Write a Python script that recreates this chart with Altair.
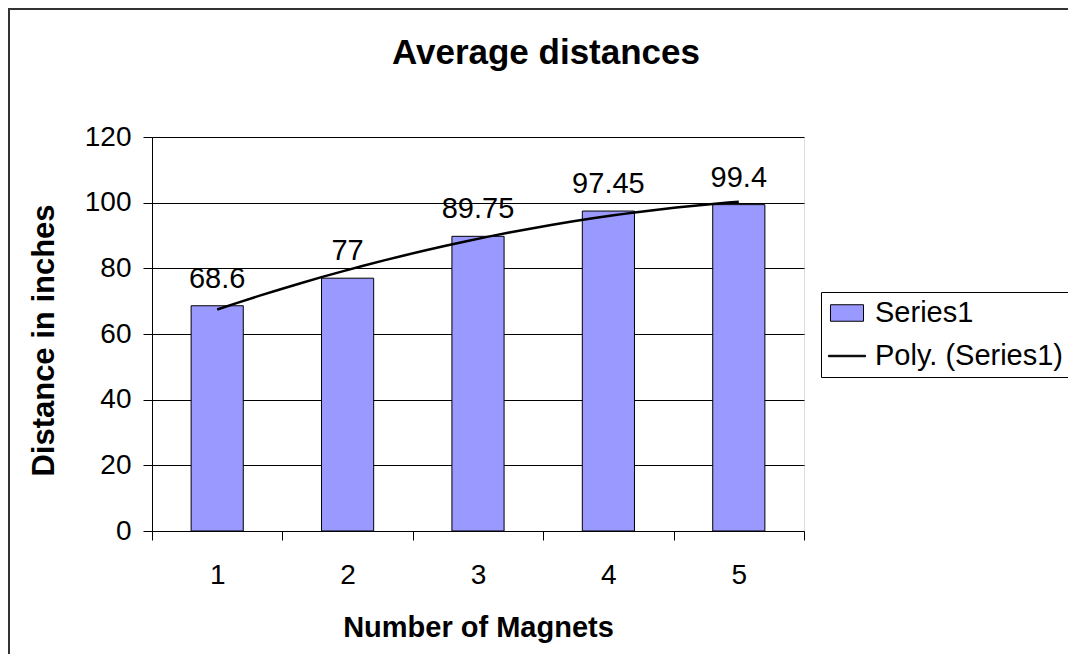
import altair as alt
import pandas as pd

# ---- data ----
magnets = [1, 2, 3, 4, 5]
distances = [68.6, 77, 89.75, 97.45, 99.4]
label_texts = ["68.6", "77", "89.75", "97.45", "99.4"]
y_ticks = [0, 20, 40, 60, 80, 100, 120]
series_names = ["Series1", "Poly. (Series1)"]

df = pd.DataFrame({
    "n": magnets,
    "dist": distances,
    "label": label_texts,
    "series": [series_names[0]] * len(magnets),
})

FONT = "Liberation Sans"
W, H = 652, 394
PL, PT = 144, 129
PR = 1060 - PL - W
PB = 646 - PT - H

# legend symbol shapes (unit coords scaled by sqrt(symbolSize)/2 = 14.5 px)
RECT_PATH = "M-1.14,-0.57H1.14V0.57H-1.14Z"
LINE_PATH = "M-1.28,-0.05H1.28V0.05H-1.28Z"

color_scale = alt.Scale(domain=series_names, range=["#9999FF", "#000000"])

legend = alt.Legend(
    title=None,
    orient="none",
    legendX=669,
    legendY=155,
    labelFont=FONT,
    labelFontSize=29,
    labelColor="black",
    labelLimit=400,
    fillColor="white",
    strokeColor="black",
    padding=6,
    rowPadding=13,
    labelOffset=13,
    symbolOffset=5,
    symbolSize=841,
    symbolStrokeColor="black",
    symbolStrokeWidth=1,
    symbolType=alt.ExprRef(
        expr="datum.value === 'Series1' ? '" + RECT_PATH + "' : '" + LINE_PATH + "'"
    ),
)

band = alt.Scale(paddingInner=0, paddingOuter=0)

bars = alt.Chart(df).mark_bar(
    stroke="black", strokeWidth=1, width=alt.RelativeBandSize(band=0.4)
).encode(
    x=alt.X(
        "n:O",
        scale=band,
        axis=alt.Axis(
            title="Number of Magnets",
            tickBand="extent",
            labelAngle=0,
            tickSize=9,
            tickColor="black",
            domainColor="black",
            labelFont=FONT,
            labelFontSize=28,
            labelColor="black",
            labelBaseline="alphabetic",
            labelPadding=43,
            grid=False,
            titleFont=FONT,
            titleFontSize=29,
            titleFontWeight="bold",
            titleColor="black",
            titleX=W / 2,
            titleY=105,
            titleBaseline="alphabetic",
            titleAlign="center",
        ),
    ),
    y=alt.Y(
        "dist:Q",
        scale=alt.Scale(domain=[0, 120], nice=False),
        axis=alt.Axis(
            title="Distance in inches",
            values=y_ticks,
            tickSize=9,
            tickColor="black",
            domainColor="black",
            labelFont=FONT,
            labelFontSize=28,
            labelColor="black",
            labelPadding=12,
            grid=True,
            gridColor="black",
            gridWidth=1,
            titleFont=FONT,
            titleFontSize=31,
            titleFontWeight="bold",
            titleColor="black",
            titleAngle=270,
            titleX=-99,
            titleY=203,
            titleBaseline="alphabetic",
            titleAlign="center",
        ),
    ),
    color=alt.Color("series:N", scale=color_scale, legend=legend),
)

labels = alt.Chart(df).mark_text(
    baseline="alphabetic", dy=-18, font=FONT, fontSize=29, color="black"
).encode(
    x=alt.X("n:O", scale=band, axis=None),
    y=alt.Y("dist:Q"),
    text="label:N",
)

trend = (
    alt.Chart(df)
    .transform_regression("n", "dist", method="poly", order=2)
    .mark_line(strokeWidth=2.5, color="black")
    .encode(
        x=alt.X("n:Q", scale=alt.Scale(domain=[0.5, 5.5], nice=False, zero=False), axis=None),
        y=alt.Y("dist:Q"),
    )
)

frame_df = pd.DataFrame({"k": [0]})
border_left = alt.Chart(frame_df).mark_rule(color="#333333", strokeWidth=2).encode(
    x=alt.value(-PL + 1), y=alt.value(-PT), y2=alt.value(H + PB)
)
border_top = alt.Chart(frame_df).mark_rule(color="#333333", strokeWidth=2).encode(
    x=alt.value(-PL), x2=alt.value(W + PR), y=alt.value(-PT + 1)
)

chart = (
    alt.layer(bars, labels, trend, border_left, border_top)
    .resolve_scale(x="independent")
    .properties(
        width=W,
        height=H,
        autosize=alt.AutoSizeParams(type="none"),
        padding={"left": PL, "top": PT, "right": PR, "bottom": PB},
        title=alt.TitleParams(
            text="Average distances",
            font=FONT,
            fontSize=35,
            fontWeight="bold",
            color="black",
            anchor="middle",
            dx=68,
            baseline="alphabetic",
            offset=-92,
        ),
    )
    .configure_view(fill="#C0C0C0", stroke="#808080", strokeWidth=1)
    .configure(background="white")
)

chart.save("out.html", embed_options={"renderer": "svg", "actions": False})
